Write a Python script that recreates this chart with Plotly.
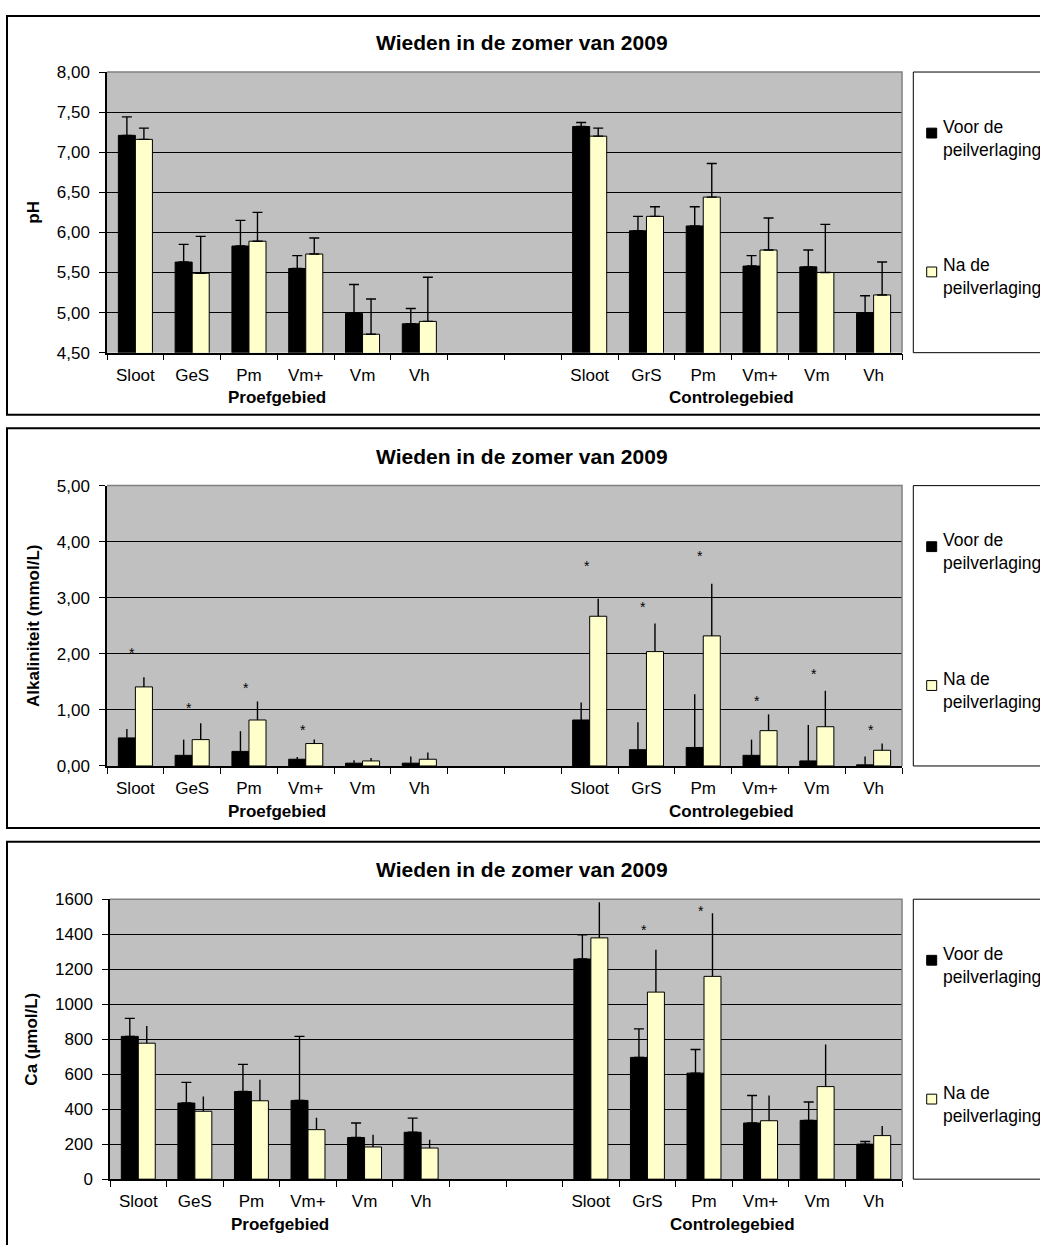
import plotly.graph_objects as go

W, H = 1040, 1245

TITLE = "Wieden in de zomer van 2009"
CATS_PROEF = ["Sloot", "GeS", "Pm", "Vm+", "Vm", "Vh"]
CATS_CONTROLE = ["Sloot", "GrS", "Pm", "Vm+", "Vm", "Vh"]
GROUP_LABELS = ["Proefgebied", "Controlegebied"]
SERIES_NAMES = ["Voor de<br>peilverlaging", "Na de<br>peilverlaging"]

# pH (mean and +SD)
ph_voor_proef = [7.21, 5.63, 5.83, 5.55, 4.99, 4.86]
ph_voor_proef_sd = [0.23, 0.22, 0.32, 0.16, 0.36, 0.19]
ph_na_proef = [7.16, 5.49, 5.89, 5.73, 4.73, 4.89]
ph_na_proef_sd = [0.14, 0.46, 0.36, 0.20, 0.44, 0.55]
ph_voor_contr = [7.32, 6.02, 6.08, 5.58, 5.57, 4.99]
ph_voor_contr_sd = [0.05, 0.18, 0.24, 0.13, 0.21, 0.22]
ph_na_contr = [7.20, 6.20, 6.44, 5.78, 5.50, 5.22]
ph_na_contr_sd = [0.10, 0.12, 0.42, 0.40, 0.60, 0.41]

# Alkaliniteit (mmol/L)
alk_voor_proef = [0.50, 0.19, 0.26, 0.12, 0.05, 0.05]
alk_voor_proef_sd = [0.16, 0.28, 0.36, 0.04, 0.05, 0.12]
alk_na_proef = [1.41, 0.47, 0.82, 0.40, 0.09, 0.12]
alk_na_proef_sd = [0.17, 0.29, 0.33, 0.07, 0.05, 0.12]
alk_voor_contr = [0.82, 0.29, 0.33, 0.19, 0.09, 0.02]
alk_voor_contr_sd = [0.31, 0.49, 0.95, 0.28, 0.64, 0.15]
alk_na_contr = [2.67, 2.04, 2.32, 0.63, 0.70, 0.28]
alk_na_contr_sd = [0.31, 0.50, 0.93, 0.29, 0.64, 0.12]
# height of the significance marker (*) per category, None = not significant
alk_sig_proef = [2.09, 1.10, 1.47, 0.71, None, None]
alk_sig_contr = [3.63, 2.91, 3.82, 1.23, 1.72, 0.72]

# Ca (umol/L)
ca_voor_proef = [816, 435, 501, 450, 238, 268]
ca_voor_proef_sd = [103, 118, 155, 366, 83, 81]
ca_na_proef = [777, 388, 448, 283, 184, 178]
ca_na_proef_sd = [99, 85, 120, 68, 70, 47]
ca_voor_contr = [1258, 696, 606, 321, 336, 200]
ca_voor_contr_sd = [139, 163, 135, 157, 105, 15]
ca_na_contr = [1379, 1069, 1159, 334, 529, 249]
ca_na_contr_sd = [204, 242, 360, 144, 240, 55]
ca_sig_proef = [None, None, None, None, None, None]
ca_sig_contr = [None, 1448, 1553, None, None, None]

FONT = "Liberation Sans, Arial, sans-serif"
BLACK = "#000000"
CREAM = "#FFFFCC"
PLOT_BG = "#C0C0C0"

# slot ids: 6 test-area categories, 2 empty spacer slots, 6 control-area categories
SLOT_IDS = [f"p{i}" for i in range(6)] + ["gap0", "gap1"] + [f"c{i}" for i in range(6)]
SLOT_TEXT = CATS_PROEF + ["", ""] + CATS_CONTROLE


def join(proef, contr):
    return list(proef) + [None, None] + list(contr)


def px_x(x):
    return x / W


def px_y(y):
    return 1 - y / H


panels = [
    dict(
        ytitle="pH", yrange=[4.5, 8.0], dtick=0.5, fmt=".2f",
        voor=join(ph_voor_proef, ph_voor_contr), voor_sd=join(ph_voor_proef_sd, ph_voor_contr_sd),
        na=join(ph_na_proef, ph_na_contr), na_sd=join(ph_na_proef_sd, ph_na_contr_sd),
        sig=join([None] * 6, [None] * 6),
        cap_voor=5, cap_na=5,
        frame=(7, 412), plot=(107, 64, 902, 349),
    ),
    dict(
        ytitle="Alkaliniteit (mmol/L)", yrange=[0, 5.0], dtick=1.0, fmt=".2f",
        voor=join(alk_voor_proef, alk_voor_contr), voor_sd=join(alk_voor_proef_sd, alk_voor_contr_sd),
        na=join(alk_na_proef, alk_na_contr), na_sd=join(alk_na_proef_sd, alk_na_contr_sd),
        sig=join(alk_sig_proef, alk_sig_contr),
        cap_voor=0, cap_na=0,
        frame=(425.7, 831.7), plot=(107, 484, 902, 768.7),
    ),
    dict(
        ytitle="Ca (µmol/L)", yrange=[0, 1600], dtick=200, fmt="d",
        voor=join(ca_voor_proef, ca_voor_contr), voor_sd=join(ca_voor_proef_sd, ca_voor_contr_sd),
        na=join(ca_na_proef, ca_na_contr), na_sd=join(ca_na_proef_sd, ca_na_contr_sd),
        sig=join(ca_sig_proef, ca_sig_contr),
        cap_voor=5, cap_na=0,
        frame=(845.7, 1260), plot=(110, 904, 902, 1188.3),
    ),
]

fig = go.Figure()
shapes = []
annotations = []
layout_axes = {}

for k, p in enumerate(panels, start=1):
    sfx = "" if k == 1 else str(k)
    xref, yref = f"x{sfx}", f"y{sfx}"
    left, top, right, bottom = p["plot"]

    fig.add_trace(go.Bar(
        x=SLOT_IDS, y=p["voor"], name="Voor de peilverlaging",
        marker=dict(color=BLACK, line=dict(color=BLACK, width=1)),
        error_y=dict(type="data", symmetric=False, array=p["voor_sd"], arrayminus=[0] * 14,
                     color=BLACK, thickness=1.4, width=p["cap_voor"]),
        xaxis=xref, yaxis=yref, showlegend=False, hoverinfo="skip",
    ))
    fig.add_trace(go.Bar(
        x=SLOT_IDS, y=p["na"], name="Na de peilverlaging",
        marker=dict(color=CREAM, line=dict(color=BLACK, width=1)),
        error_y=dict(type="data", symmetric=False, array=p["na_sd"], arrayminus=[0] * 14,
                     color=BLACK, thickness=1.4, width=p["cap_na"]),
        xaxis=xref, yaxis=yref, showlegend=False, hoverinfo="skip",
    ))

    layout_axes[f"xaxis{sfx}"] = dict(
        domain=[px_x(left), px_x(right)], anchor=yref,
        type="category", categoryorder="array", categoryarray=SLOT_IDS,
        tickmode="array", tickvals=SLOT_IDS, ticktext=SLOT_TEXT,
        tickson="boundaries", ticks="outside", ticklen=6, tickcolor=BLACK, tickwidth=1.3,
        showline=True, linecolor=BLACK, linewidth=1.5, showgrid=False,
        range=[-0.5, 13.5], fixedrange=True,
        tickfont=dict(family=FONT, size=17, color=BLACK), ticklabelstandoff=6,
    )
    layout_axes[f"yaxis{sfx}"] = dict(
        domain=[px_y(bottom), px_y(top)], anchor=xref,
        range=p["yrange"], dtick=p["dtick"], tick0=p["yrange"][0], tickformat=p["fmt"],
        ticks="outside", ticklen=6, tickcolor=BLACK, tickwidth=1.3,
        showline=True, linecolor=BLACK, linewidth=1.5,
        showgrid=True, gridcolor=BLACK, gridwidth=1, zeroline=False, fixedrange=True,
        tickfont=dict(family=FONT, size=17, color=BLACK), ticklabelstandoff=6,
        title=dict(text=f"<b>{p['ytitle']}</b>", font=dict(family=FONT, size=17, color=BLACK), standoff=13),
    )

    # outer chart frame
    f_top, f_bottom = p["frame"]
    shapes.append(dict(type="rect", xref="paper", yref="paper",
                       x0=px_x(7), x1=px_x(1060), y0=px_y(f_bottom), y1=px_y(f_top),
                       line=dict(color=BLACK, width=2), fillcolor="rgba(0,0,0,0)", layer="above"))
    # grey top and right edges of the plot area
    shapes.append(dict(type="path", xref="paper", yref="paper",
                       path=f"M {px_x(left)} {px_y(top)} L {px_x(right)} {px_y(top)} L {px_x(right)} {px_y(bottom)}",
                       line=dict(color="#808080", width=1.5), layer="above"))

    # title
    annotations.append(dict(text=f"<b>{TITLE}</b>", xref="paper", yref="paper",
                            x=px_x(522), y=px_y(top - 30), xanchor="center", yanchor="middle",
                            showarrow=False, font=dict(family=FONT, size=21, color=BLACK)))

    # group labels under the category labels
    for gi, label in enumerate(GROUP_LABELS):
        annotations.append(dict(text=f"<b>{label}</b>", xref=xref, yref="paper",
                                x=2.5 + 8 * gi, y=px_y(bottom + 46), xanchor="center", yanchor="middle",
                                showarrow=False, font=dict(family=FONT, size=17, color=BLACK)))

    # significance markers
    for slot, val in zip(SLOT_IDS, p["sig"]):
        if val is None:
            continue
        annotations.append(dict(text="*", xref=xref, yref=yref, x=slot, y=val,
                                xanchor="center", yanchor="middle", xshift=-3, yshift=-4,
                                showarrow=False, font=dict(family=FONT, size=14, color=BLACK)))

    # legend box with its two entries
    shapes.append(dict(type="rect", xref="paper", yref="paper",
                       x0=px_x(913.3), x1=px_x(1060), y0=px_y(bottom), y1=px_y(top),
                       line=dict(color=BLACK, width=1), fillcolor="white", layer="below"))
    for si, (name, fill) in enumerate(zip(SERIES_NAMES, [BLACK, CREAM])):
        sq_top = top + 57 + 141 * si
        shapes.append(dict(type="rect", xref="paper", yref="paper",
                           x0=px_x(926.7), x1=px_x(936.7), y0=px_y(sq_top + 10), y1=px_y(sq_top),
                           line=dict(color=BLACK, width=1), fillcolor=fill, layer="above"))
        annotations.append(dict(text=name, xref="paper", yref="paper",
                                x=px_x(941), y=px_y(sq_top + 10), xanchor="left", yanchor="middle",
                                align="left", showarrow=False,
                                font=dict(family=FONT, size=17.5, color=BLACK)))

fig.update_layout(
    width=W, height=H, margin=dict(l=0, r=0, t=0, b=0),
    paper_bgcolor="white", plot_bgcolor=PLOT_BG,
    barmode="group", bargap=0.4, bargroupgap=0,
    separators=",.",
    shapes=shapes, annotations=annotations,
    font=dict(family=FONT, color=BLACK),
    **layout_axes,
)

fig.write_html("out.html")
